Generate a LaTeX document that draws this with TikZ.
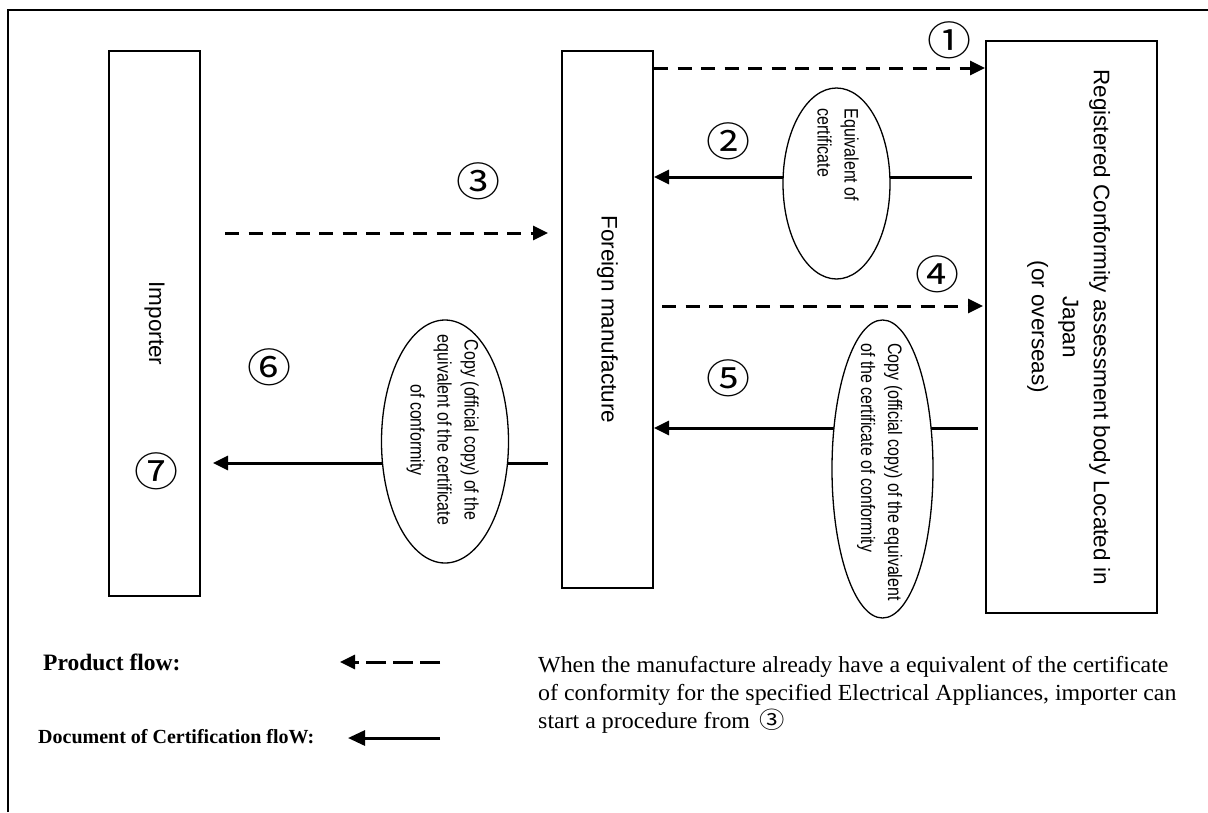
\documentclass[tikz,border=0pt]{standalone}
\usepackage{fontspec}
\usetikzlibrary{arrows.meta,shapes.geometric}
\newfontfamily\boxfont{Liberation Sans}
\newfontfamily\ellfont[FakeStretch=0.82]{Liberation Sans}
\newfontfamily\circfont[FakeStretch=1.1]{Noto Sans CJK JP}
\newfontfamily\notefont[FakeStretch=1.04]{Liberation Serif}
\newfontfamily\legfont{Liberation Serif}
\tikzset{
  boxnode/.style={draw, line width=2pt, inner sep=0pt},
  ellnode/.style={draw, ellipse, line width=1.3pt, fill=white, inner sep=0pt},
  rottext/.style={rotate=-90, inner sep=0pt},
  boxtext/.style={rottext, font=\boxfont\fontsize{22.5}{31}\selectfont},
  elltext/.style={rottext, font=\ellfont\fontsize{19.5}{27}\selectfont},
  prodarrow/.style={line width=3pt, dash pattern=on 14pt off 9.5pt, -{Triangle[length=15pt,width=14pt]}},
  docarrow/.style={line width=3pt, -{Triangle[length=15pt,width=14pt]}},
  numlabel/.style={inner sep=0pt, font=\circfont\fontsize{40}{42}\selectfont},
}
\begin{document}
\begin{tikzpicture}[x=1pt,y=-1pt]
\useasboundingbox (0,0) rectangle (1208,812);
% outer frame
\draw[line width=2.5pt] (8,812) -- (8,10) -- (1208,10);
% boxes
\node[boxnode, minimum width=91pt, minimum height=545pt] (imp) at (154.5,323.5) {};
\node[boxnode, minimum width=91pt, minimum height=537pt] (fm) at (607.5,319.5) {};
\node[boxnode, minimum width=171pt, minimum height=572pt] (reg) at (1071.5,327) {};
% box texts
\node[boxtext] (impt) at (imp.center) {Importer};
\node[boxtext] (fmt) at (fm.center) {Foreign manufacture};
\node[boxtext] (regt) at (1069,327) {\begin{tabular}{@{}c@{}}Registered Conformity assessment body Located in\\Japan\\(or overseas)\end{tabular}};
% arrows
\draw[prodarrow] (fm.east |- 0,68) -- (reg.west |- 0,68);
\draw[docarrow, shorten <=13pt] (reg.west |- 0,177) -- (fm.east |- 0,177);
\draw[prodarrow, shorten <=24pt, shorten >=13pt] (imp.east |- 0,233) -- (fm.west |- 0,233);
\draw[prodarrow, shorten <=8pt, shorten >=2pt] (fm.east |- 0,306) -- (reg.west |- 0,306);
\draw[docarrow, shorten <=7pt] (reg.west |- 0,428) -- (fm.east |- 0,428);
\draw[docarrow, shorten <=13pt, shorten >=12pt] (fm.west |- 0,463) -- (imp.east |- 0,463);
% ellipses
\node[ellnode, minimum width=107pt, minimum height=191pt] (e2) at (836.5,183.5) {};
\node[ellnode, minimum width=101pt, minimum height=298pt] (e5) at (882.5,469) {};
\node[ellnode, minimum width=127pt, minimum height=243pt] (e6) at (445,441.5) {};
\node[elltext] (e2t) at (836.5,155) {\begin{tabular}{@{}l@{}}Equivalent of\\certificate\end{tabular}};
\node[elltext] (e5t) at (880,472) {\begin{tabular}{@{}l@{}}Copy (official copy) of the equivalent\\of the certificate of conformity\end{tabular}};
\node[elltext] (e6t) at (443,430) {\begin{tabular}{@{}c@{}}Copy (official copy) of the\\equivalent of the certificate\\of conformity\end{tabular}};
% numbers
\node[numlabel] (n1) at (949,40) {①};
\node[numlabel] (n2) at (728,141) {②};
\node[numlabel] (n3) at (478,181) {③};
\node[numlabel] (n4) at (937,274) {④};
\node[numlabel] (n5) at (728,378) {⑤};
\node[numlabel] (n6) at (269,367) {⑥};
\node[numlabel] (n7) at (156,471) {⑦};
% legend
\node[anchor=west, inner sep=0pt, font=\legfont\bfseries\fontsize{23.5}{27}\selectfont] (lprod) at (43,662) {Product flow:};
\node[anchor=west, inner sep=0pt, font=\legfont\bfseries\fontsize{20}{24}\selectfont] (ldoc) at (38,737) {Document of Certification floW:};
\coordinate (lp1) at (440,662);
\coordinate (lp2) at (340,662);
\coordinate (ld1) at (440,738);
\coordinate (ld2) at (348,738);
\draw[prodarrow, dash pattern=on 20pt off 7pt] (lp1) -- (lp2);
\draw[docarrow, -{Triangle[length=17pt,width=15pt]}] (ld1) -- (ld2);
% note
\node[anchor=north west, inner sep=0pt, align=left, font=\notefont\fontsize{23}{28}\selectfont] (note) at (538,656)
 {When the manufacture already have a equivalent of the certificate\\of conformity for the specified Electrical Appliances, importer can\\start a procedure from \,{\circfont\fontsize{23}{28}\selectfont ③}};
\end{tikzpicture}
\end{document}
